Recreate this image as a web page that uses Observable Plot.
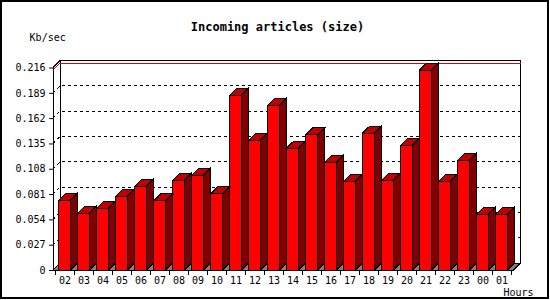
<!DOCTYPE html>
<html><head><meta charset="utf-8">
<script src="https://cdn.jsdelivr.net/npm/d3@7"></script>
<script src="https://cdn.jsdelivr.net/npm/@observablehq/plot@0.6"></script>
<style>
body{margin:0;background:#fff}
svg{display:block}
#chart polygon, #chart polyline, #chart line, #chart rect {shape-rendering:crispEdges}
</style>
</head><body><div id="chart"></div>
<script>
const hours = ["02","03","04","05","06","07","08","09","10","11","12","13","14","15","16","17","18","19","20","21","22","23","00","01"];
const values = [0.0744,0.0605,0.0659,0.0787,0.0894,0.0737,0.0957,0.1011,0.0811,0.1865,0.1385,0.1758,0.1300,0.1441,0.1150,0.0947,0.1460,0.0957,0.1331,0.2132,0.0947,0.1171,0.0594,0.0594];
const yTicks = [0,0.027,0.054,0.081,0.108,0.135,0.162,0.189,0.216];
const titleText = "Incoming articles (size)";
const yLabel = "Kb/sec";
const xLabel = "Hours";

const data = hours.map((h, i) => ({hour: h, value: values[i]}));
const yMax = yTicks[yTicks.length - 1];
const D = 7, E = 7, INSET = 3.6;

function findArgs(args) {
  const scales = args.find(a => a && typeof a === "object" && typeof a.x === "function" && typeof a.y === "function");
  const dims = args.find(a => a && typeof a === "object" && typeof a.width === "number" && typeof a.marginLeft === "number");
  return {scales, dims};
}
function pts(arr) { return arr.map(p => p.join(",")).join(" "); }

function backLayer(...args) {
  const {scales, dims} = findArgs(args);
  const x = scales.x, y = scales.y;
  const X0 = dims.marginLeft, X1 = dims.width - dims.marginRight, Y0 = y(0), YT = y(yMax);
  const g = d3.create("svg:g");
  g.append("rect").attr("x", 1).attr("y", 1).attr("width", dims.width - 3).attr("height", dims.height - 3)
    .attr("fill", "none").attr("stroke", "black").attr("stroke-width", 2);
  for (const t of yTicks) {
    if (t === 0 || t === yMax) continue;
    const yy = y(t);
    g.append("polyline").attr("points", pts([[X0, yy], [X0 + D, yy - E], [X1 + D, yy - E]]))
      .attr("fill", "none").attr("stroke", "black").attr("stroke-dasharray", "3,3");
  }
  g.append("polyline").attr("points", pts([[X0, YT], [X0 + D, YT - E], [X1 + D, YT - E], [X1 + D, Y0 - E]]))
    .attr("fill", "none").attr("stroke", "black");
  g.append("line").attr("x1", X0 + D).attr("x2", X0 + D).attr("y1", YT - E).attr("y2", Y0 - E).attr("stroke", "black");
  const m = y(d3.max(values));
  g.append("polyline").attr("points", pts([[X0, m], [X0 + D, m - E], [X1 + D, m - E]]))
    .attr("fill", "none").attr("stroke", "#e00000");
  g.append("polygon").attr("points", pts([[X0, Y0], [X1, Y0], [X1 + D, Y0 - E], [X0 + D, Y0 - E]]))
    .attr("fill", "#808080").attr("stroke", "black");
  return g.node();
}

function barFaces(...args) {
  const {scales, dims} = findArgs(args);
  const x = scales.x, y = scales.y;
  const step = x(hours[1]) - x(hours[0]);
  const Y0 = y(0);
  const g = d3.create("svg:g").attr("stroke", "black");
  data.forEach(d => {
    const xl = x(d.hour) + INSET, xr = x(d.hour) + step - INSET, yt = y(d.value);
    g.append("polygon").attr("points", pts([[xr, yt], [xr + D, yt - E], [xr + D, Y0 - E], [xr, Y0]]))
      .attr("fill", "#800000");
    g.append("polygon").attr("points", pts([[xl, yt], [xl + D, yt - E], [xr + D, yt - E], [xr, yt]]))
      .attr("fill", "#c00000");
  });
  return g.node();
}

function frontAxes(...args) {
  const {scales, dims} = findArgs(args);
  const x = scales.x, y = scales.y;
  const step = x(hours[1]) - x(hours[0]);
  const X0 = dims.marginLeft, X1 = dims.width - dims.marginRight, Y0 = y(0), YT = y(yMax);
  const g = d3.create("svg:g").attr("stroke", "black");
  g.append("line").attr("x1", X0).attr("x2", X0).attr("y1", YT).attr("y2", Y0);
  g.append("line").attr("x1", X0).attr("x2", X1).attr("y1", Y0).attr("y2", Y0);
  const bounds = hours.map(h => x(h)).concat([x(hours[hours.length - 1]) + step]);
  for (const bx of bounds) {
    g.append("line").attr("x1", bx).attr("x2", bx).attr("y1", Y0).attr("y2", Y0 + 5);
  }
  return g.node();
}

const chart = Plot.plot({
  width: 550,
  height: 300,
  marginTop: 67.5,
  marginBottom: 30,
  marginLeft: 53.1,
  marginRight: 36.4,
  style: {fontFamily: "'DejaVu Sans Mono', monospace", fontSize: "10px", background: "white", color: "black"},
  x: {domain: hours, padding: 0},
  y: {domain: [0, yMax]},
  marks: [
    backLayer,
    Plot.barY(data, {x: "hour", y: "value", fill: "#ff0000", stroke: "black", strokeWidth: 1, insetLeft: INSET, insetRight: INSET}),
    barFaces,
    frontAxes,
    Plot.axisY({ticks: yTicks, tickFormat: d => d === 0 ? "0" : d3.format(".3f")(d), tickSize: 4, tickPadding: 4, fontSize: 10, label: null}),
    Plot.axisX({tickSize: 0, tickPadding: 6, fontSize: 10, label: null}),
    Plot.text([titleText], {frameAnchor: "top", lineAnchor: "middle", text: d => d, dx: -6.4, dy: -41, fontSize: 12, fontWeight: "bold"}),
    Plot.text([yLabel], {frameAnchor: "top-left", lineAnchor: "middle", text: d => d, dx: -24, dy: -30.5, textAnchor: "start", fontSize: 10}),
    Plot.text([xLabel], {frameAnchor: "bottom-right", lineAnchor: "middle", text: d => d, dx: 19.4, dy: 22, textAnchor: "end", fontSize: 10})
  ]
});
document.getElementById("chart").appendChild(chart);
</script>
</body></html>
